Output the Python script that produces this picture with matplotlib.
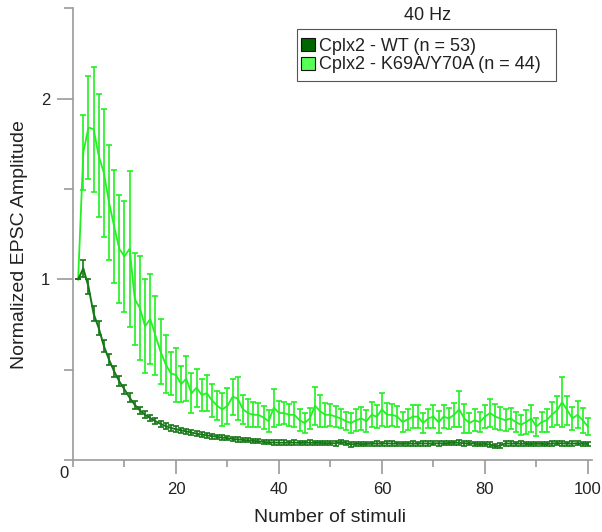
import matplotlib
matplotlib.use("Agg")
import matplotlib.pyplot as plt
from matplotlib.patches import Patch, Rectangle
from matplotlib.ticker import MultipleLocator

plt.rcParams['font.family'] = ['Liberation Sans', 'DejaVu Sans']

# Stimulus number within the 40 Hz train
stimuli = list(range(1, 101))

# Cplx2 - WT: mean normalized EPSC amplitude and SEM
wt_mean = [
    1.00, 1.06, 0.96, 0.81, 0.73, 0.63, 0.555, 0.49, 0.435, 0.39,
    0.345, 0.305, 0.275, 0.25, 0.232, 0.215, 0.200, 0.188, 0.178, 0.170,
    0.164, 0.158, 0.152, 0.146, 0.141, 0.136, 0.132, 0.128, 0.124, 0.121,
    0.117, 0.114, 0.111, 0.109, 0.106, 0.104, 0.100, 0.098, 0.097, 0.096,
    0.096, 0.095, 0.097, 0.094, 0.095, 0.096, 0.094, 0.095, 0.093, 0.094,
    0.092, 0.100, 0.094, 0.086, 0.090, 0.088, 0.089, 0.090, 0.091, 0.090,
    0.092, 0.091, 0.090, 0.089, 0.090, 0.091, 0.090, 0.092, 0.091, 0.093,
    0.092, 0.093, 0.094, 0.095, 0.096, 0.092, 0.094, 0.090, 0.087, 0.090,
    0.085, 0.076, 0.080, 0.092, 0.091, 0.090, 0.091, 0.089, 0.088, 0.090,
    0.089, 0.088, 0.091, 0.094, 0.092, 0.090, 0.091, 0.093, 0.090, 0.088,
]
wt_sem = [
    0.0, 0.045, 0.04, 0.04, 0.038, 0.035, 0.032, 0.030, 0.028, 0.026,
    0.024, 0.022, 0.020, 0.019, 0.018, 0.018, 0.017, 0.017, 0.016, 0.016,
    0.015, 0.015, 0.015, 0.014, 0.014, 0.014, 0.014, 0.013, 0.013, 0.013,
    0.013, 0.013, 0.012, 0.012, 0.012, 0.012, 0.012, 0.012, 0.012, 0.012,
    0.012, 0.012, 0.012, 0.012, 0.012, 0.012, 0.012, 0.012, 0.012, 0.012,
    0.012, 0.013, 0.012, 0.012, 0.012, 0.012, 0.012, 0.012, 0.012, 0.012,
    0.012, 0.012, 0.012, 0.012, 0.012, 0.012, 0.012, 0.012, 0.012, 0.012,
    0.012, 0.012, 0.012, 0.012, 0.013, 0.012, 0.012, 0.012, 0.012, 0.012,
    0.012, 0.012, 0.012, 0.012, 0.012, 0.012, 0.012, 0.012, 0.012, 0.012,
    0.012, 0.012, 0.012, 0.012, 0.012, 0.012, 0.012, 0.012, 0.012, 0.012,
]

# Cplx2 - K69A/Y70A: mean normalized EPSC amplitude and SEM
mut_mean = [
    1.00, 1.702, 1.840, 1.831, 1.683, 1.588, 1.425, 1.291, 1.168, 1.127,
    1.169, 0.89, 0.84, 0.74, 0.78, 0.69, 0.60, 0.53, 0.48, 0.47,
    0.42, 0.45, 0.37, 0.40, 0.36, 0.37, 0.33, 0.30, 0.28, 0.30,
    0.35, 0.34, 0.28, 0.26, 0.25, 0.25, 0.235, 0.215, 0.29, 0.26,
    0.26, 0.25, 0.25, 0.22, 0.205, 0.23, 0.30, 0.27, 0.25, 0.25,
    0.24, 0.23, 0.215, 0.205, 0.22, 0.23, 0.215, 0.25, 0.24, 0.28,
    0.25, 0.25, 0.24, 0.21, 0.225, 0.24, 0.24, 0.205, 0.23, 0.24,
    0.21, 0.24, 0.23, 0.25, 0.28, 0.23, 0.205, 0.22, 0.21, 0.24,
    0.26, 0.24, 0.23, 0.22, 0.23, 0.21, 0.195, 0.21, 0.23, 0.185,
    0.21, 0.22, 0.25, 0.275, 0.32, 0.275, 0.23, 0.25, 0.22, 0.185,
]
mut_sem = [
    0.0, 0.208, 0.285, 0.346, 0.340, 0.354, 0.318, 0.314, 0.297, 0.306,
    0.431, 0.254, 0.288, 0.26, 0.25, 0.22, 0.18, 0.16, 0.12, 0.15,
    0.10, 0.125, 0.11, 0.105, 0.09, 0.10, 0.09, 0.08, 0.09, 0.10,
    0.10, 0.12, 0.08, 0.08, 0.07, 0.065, 0.065, 0.06, 0.105, 0.065,
    0.06, 0.06, 0.07, 0.06, 0.055, 0.06, 0.105, 0.09, 0.065, 0.06,
    0.06, 0.055, 0.05, 0.055, 0.06, 0.065, 0.06, 0.07, 0.065, 0.09,
    0.065, 0.06, 0.06, 0.055, 0.06, 0.065, 0.065, 0.055, 0.055, 0.065,
    0.06, 0.065, 0.06, 0.065, 0.10, 0.08, 0.055, 0.06, 0.055, 0.065,
    0.075, 0.07, 0.065, 0.06, 0.06, 0.055, 0.055, 0.065, 0.075, 0.05,
    0.055, 0.065, 0.07, 0.08, 0.14, 0.08, 0.065, 0.075, 0.07, 0.045,
]

labels = ["Cplx2 - WT (n = 53)", "Cplx2 - K69A/Y70A (n = 44)"]
x_ticks = [20, 40, 60, 80, 100]
y_ticks = [1, 2]

wt_line = "#167816"
mut_line = "#22f022"
wt_patch = "#006600"
mut_patch = "#55ff55"
axis_gray = "#9a9a9a"
text_col = "#222222"

W, H = 602, 532
fig = plt.figure(figsize=(W / 100, H / 100), dpi=100)
ax = fig.add_axes([73 / W, 72 / H, 519 / W, 451.75 / H])

ax.errorbar(stimuli, mut_mean, yerr=mut_sem, color=mut_line, lw=1.3,
            elinewidth=1.2, capsize=2.2, capthick=1.2, zorder=2)
ax.errorbar(stimuli, wt_mean, yerr=wt_sem, color=wt_line, lw=1.4,
            elinewidth=1.2, capsize=2.2, capthick=1.2, zorder=3)

ax.set_xlim(0, 100.8)
ax.set_ylim(0, 2.5)

for side in ("top", "right"):
    ax.spines[side].set_visible(False)
for side in ("left", "bottom"):
    ax.spines[side].set_color(axis_gray)
    ax.spines[side].set_linewidth(1.2)

ax.set_xticks(x_ticks)
ax.set_yticks(y_ticks)
ax.xaxis.set_minor_locator(MultipleLocator(10))
ax.yaxis.set_minor_locator(MultipleLocator(0.5))
ax.tick_params(axis="both", which="both", colors=axis_gray, width=1.2,
               labelcolor=text_col, labelsize=12)
ax.tick_params(axis="x", which="major", length=10, pad=6)
ax.tick_params(axis="x", which="minor", length=5)
ax.tick_params(axis="y", which="major", length=11.5, pad=5)
ax.tick_params(axis="y", which="minor", length=6.5)

# shared origin label at the corner
ax.text(-1.75, -0.072, "0", ha="center", va="center", fontsize=12,
        color=text_col, clip_on=False)

ax.set_xlabel("Number of stimuli", fontsize=14, color=text_col)
ax.set_ylabel("Normalized EPSC Amplitude", fontsize=14, color=text_col)
ax.xaxis.set_label_coords(0.496, -0.108)
ax.yaxis.set_label_coords(-0.087, 0.478)

# legend entries without the default frame; a plain box is drawn round them
handles = [Patch(facecolor=wt_patch, edgecolor="#111111", lw=0.8),
           Patch(facecolor=mut_patch, edgecolor="#111111", lw=0.8)]
leg = fig.legend(handles, labels, loc="upper left",
                 bbox_to_anchor=(301 / W, 1 - 38 / H),
                 borderaxespad=0, borderpad=0, fontsize=13, frameon=False,
                 handlelength=0.75, handleheight=0.75, handletextpad=0.25,
                 labelspacing=0.08)
for t in leg.get_texts():
    t.set_color(text_col)

fig.patches.append(Rectangle((297 / W, 1 - 81 / H), (556 - 297) / W,
                             (81 - 29) / H, transform=fig.transFigure,
                             facecolor="white", edgecolor="#555555",
                             lw=0.8, zorder=4))
leg.set_zorder(5)

fig.text(428 / W, 1 - 16 / H, "40 Hz", ha="center", va="center",
         fontsize=13, color=text_col)

fig.savefig("out.png", dpi=100)
